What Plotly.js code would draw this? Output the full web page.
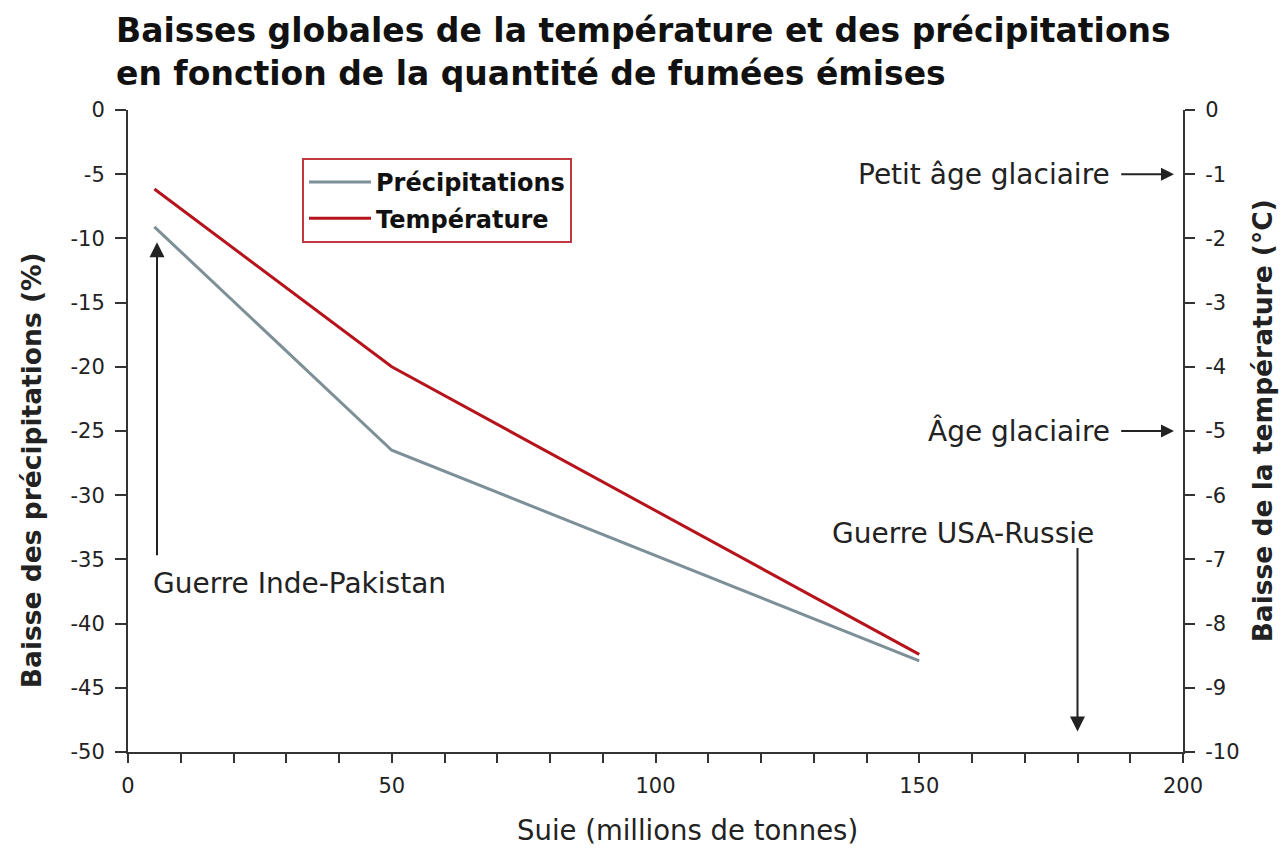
<!DOCTYPE html>
<html>
<head>
<meta charset="utf-8">
<script src="https://cdn.plot.ly/plotly-3.0.1.min.js"></script>
<style>
  html, body { margin: 0; padding: 0; background: #fff; }
  #chart { width: 1281px; height: 848px; }
</style>
</head>
<body>
<div id="chart"></div>
<script>
// ---- Data ----
const suie = [5, 50, 150];                       // millions de tonnes
const precipitations = [-9.1, -26.5, -42.9];     // %
const temperature = [-1.23, -4.0, -8.48];        // °C

const seriesNames = ['Précipitations', 'Température'];
const scenarioNames = ['Guerre Inde-Pakistan', 'Guerre USA-Russie'];
const scenarioSuie = [5.5, 180];
const climateRefs = ['Petit âge glaciaire', 'Âge glaciaire'];
const climateRefTemp = [-1, -5];

const xTickVals = [0, 50, 100, 150, 200];
const yLeftTicks = [0, -5, -10, -15, -20, -25, -30, -35, -40, -45, -50];
const yRightTicks = [0, -1, -2, -3, -4, -5, -6, -7, -8, -9, -10];

const FONT = '"DejaVu Sans", Roboto, sans-serif';
const INK = '#222222';
const AXIS = '#333333';
const GRAY = '#7d8f97';
const RED = '#b5141c';
const LABEL = 28;

const traces = [
  {
    x: suie, y: precipitations, name: seriesNames[0], type: 'scatter', mode: 'lines',
    line: { color: GRAY, width: 3 }, yaxis: 'y', legendgroup: 'p', hoverinfo: 'x+y'
  },
  {
    x: suie, y: temperature, name: seriesNames[1], type: 'scatter', mode: 'lines',
    line: { color: RED, width: 3 }, yaxis: 'y2', legendgroup: 't', hoverinfo: 'x+y'
  }
];

const annotations = [
  // axis titles
  { text: '<b>Baisse des précipitations (%)</b>', xref: 'paper', yref: 'paper',
    x: (31 - 128) / 1055, y: 0.439, xanchor: 'center', yanchor: 'middle',
    textangle: -90, showarrow: false,
    font: { family: FONT, size: 26.5, color: INK } },
  { text: '<b>Baisse de la température (°C)</b>', xref: 'paper', yref: 'paper',
    x: (1262 - 128) / 1055, y: 0.515, xanchor: 'center', yanchor: 'middle',
    textangle: -90, showarrow: false,
    font: { family: FONT, size: 26.5, color: INK } },
  { text: 'Suie (millions de tonnes)', xref: 'paper', yref: 'paper',
    x: (687 - 128) / 1055, y: -0.121, xanchor: 'center', yanchor: 'middle', showarrow: false,
    font: { family: FONT, size: 27.5, color: INK } },
  // scenario labels
  { text: scenarioNames[0], x: 4.3, y: -36.9, xref: 'x', yref: 'y', xanchor: 'left',
    showarrow: false, font: { family: FONT, size: LABEL, color: INK } },
  { text: scenarioNames[1], x: 158.3, y: -33.0, xref: 'x', yref: 'y', xanchor: 'center',
    showarrow: false, font: { family: FONT, size: LABEL, color: INK } },
  // scenario arrows
  { text: '', x: scenarioSuie[0], y: -10.3, ax: scenarioSuie[0], ay: -34.8,
    xref: 'x', yref: 'y', axref: 'x', ayref: 'y', showarrow: true,
    arrowhead: 2, arrowsize: 1.5, arrowwidth: 2, arrowcolor: INK, standoff: 0 },
  { text: '', x: scenarioSuie[1], y: -48.4, ax: scenarioSuie[1], ay: -34.0,
    xref: 'x', yref: 'y', axref: 'x', ayref: 'y', showarrow: true,
    arrowhead: 2, arrowsize: 1.5, arrowwidth: 2, arrowcolor: INK, standoff: 0 },
  // climate reference labels (right axis)
  { text: climateRefs[0], x: 186.6, y: climateRefTemp[0], xref: 'x', yref: 'y2',
    xanchor: 'right', showarrow: false, font: { family: FONT, size: LABEL, color: INK } },
  { text: climateRefs[1], x: 186.6, y: climateRefTemp[1], xref: 'x', yref: 'y2',
    xanchor: 'right', showarrow: false, font: { family: FONT, size: LABEL, color: INK } },
  { text: '', x: 198.3, y: climateRefTemp[0], ax: 188.0, ay: climateRefTemp[0],
    xref: 'x', yref: 'y2', axref: 'x', ayref: 'y2', showarrow: true,
    arrowhead: 2, arrowsize: 1.3, arrowwidth: 2, arrowcolor: INK, standoff: 0 },
  { text: '', x: 198.3, y: climateRefTemp[1], ax: 188.0, ay: climateRefTemp[1],
    xref: 'x', yref: 'y2', axref: 'x', ayref: 'y2', showarrow: true,
    arrowhead: 2, arrowsize: 1.3, arrowwidth: 2, arrowcolor: INK, standoff: 0 }
];

const layout = {
  width: 1281, height: 848,
  paper_bgcolor: '#ffffff', plot_bgcolor: '#ffffff',
  margin: { l: 128, r: 98, t: 110, b: 96 },
  font: { family: FONT, color: INK },
  title: {
    text: '<b>Baisses globales de la température et des précipitations<br>en fonction de la quantité de fumées émises</b>',
    xref: 'container', yref: 'container', x: 116 / 1281, xanchor: 'left',
    y: 1 - 42 / 848, yanchor: 'top',
    font: { family: FONT, size: 33, color: '#111111' }
  },
  showlegend: true,
  legend: {
    x: (302 - 128) / 1055, y: (752 - 158) / 642, xanchor: 'left', yanchor: 'top',
    bordercolor: '#c0393f', borderwidth: 2, bgcolor: '#ffffff',
    font: { family: FONT, size: 24, color: '#111111', weight: 'bold' },
    traceorder: 'grouped', tracegroupgap: 2, itemwidth: 62
  },
  xaxis: {
    range: [0, 200], tickvals: xTickVals, ticktext: xTickVals.map(String),
    ticks: 'outside', ticklen: 9, tickwidth: 2,
    tickcolor: AXIS, showline: true, linecolor: AXIS, linewidth: 2,
    showgrid: false, zeroline: false,
    minor: { dtick: 10, ticks: 'outside', ticklen: 9, tickwidth: 2, tickcolor: AXIS, showgrid: false },
    tickfont: { family: FONT, size: 21, color: INK }, ticklabelstandoff: 5
  },
  yaxis: {
    range: [-50, 0], tickvals: yLeftTicks, ticktext: yLeftTicks.map(String),
    ticks: 'outside', ticklen: 11, tickwidth: 2,
    tickcolor: AXIS, showline: true, linecolor: AXIS, linewidth: 2,
    showgrid: false, zeroline: false,
    tickfont: { family: FONT, size: 21, color: INK }, ticklabelstandoff: 6
  },
  yaxis2: {
    range: [-10, 0], tickvals: yRightTicks, ticktext: yRightTicks.map(String),
    overlaying: 'y', side: 'right',
    ticks: 'outside', ticklen: 10, tickwidth: 2,
    tickcolor: AXIS, showline: true, linecolor: AXIS, linewidth: 2,
    showgrid: false, zeroline: false,
    tickfont: { family: FONT, size: 21, color: INK }, ticklabelstandoff: 6
  },
  annotations: annotations
};

Plotly.newPlot('chart', traces, layout, { displayModeBar: false, staticPlot: true });
</script>
</body>
</html>
